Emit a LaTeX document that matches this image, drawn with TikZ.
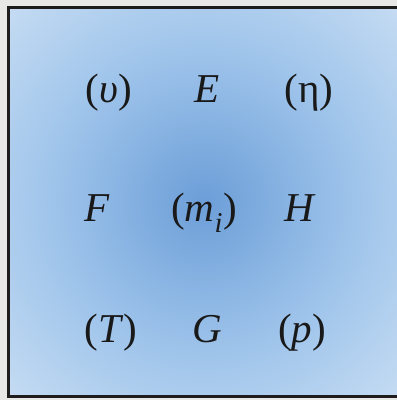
\documentclass[tikz,border=0pt]{standalone}
\usepackage{fontspec}
\setmainfont{Liberation Serif}
\definecolor{cA}{RGB}{108,158,216}
\definecolor{cB}{RGB}{160,197,235}
\definecolor{cC}{RGB}{208,226,245}
\definecolor{cD}{RGB}{234,242,251}
\definecolor{bgGray}{RGB}{232,232,230}
\definecolor{frameC}{RGB}{30,28,28}
\pgfdeclareradialshading{boxshade}{\pgfpoint{0bp}{0bp}}{%
  color(0bp)=(cA); color(20bp)=(cB); color(40bp)=(cC); color(56bp)=(cD); color(75bp)=(cD)}
\tikzset{
  lbl/.style={anchor=base, inner sep=0pt, font=\fontsize{41}{45}\selectfont, text=black!90}
}
\begin{document}
\begin{tikzpicture}[x=1pt,y=1pt]
\useasboundingbox (0,0) rectangle (397,400);
\fill[bgGray] (0,0) rectangle (397,400);
\shade[shading=boxshade] (8.5,3.5) rectangle (399,392.5);
\draw[frameC, line width=2.2pt] (8.5,3.5) rectangle (399,392.5);
\node[lbl] (v) at (109,297) {(\textit{υ})};
\node[lbl] (E) at (207,297) {\textit{E}};
\node[lbl] (eta) at (309,297) {(η)};
\node[lbl] (F) at (97,178) {\textit{F}};
\node[lbl] (m) at (204,178) {(\textit{m}\textsubscript{\textit{i}})};
\node[lbl] (H) at (300,178) {\textit{H}};
\node[lbl] (T) at (111,57) {(\textit{T})};
\node[lbl] (G) at (207,57) {\textit{G}};
\node[lbl] (p) at (302,57) {(\textit{p})};
\end{tikzpicture}
\end{document}
